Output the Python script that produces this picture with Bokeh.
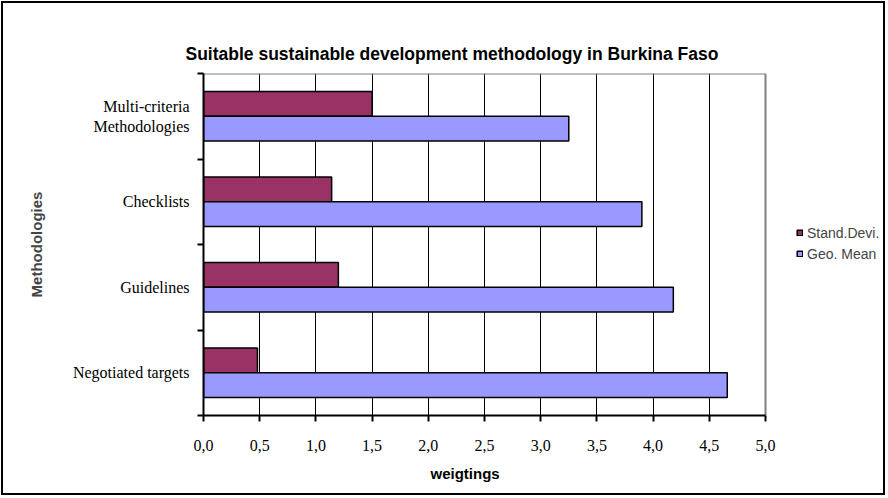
from bokeh.plotting import figure
from bokeh.models import (Range1d, FixedTicker, CustomJSTickFormatter, Legend, LegendItem,
                          ColumnDataSource, Title, LinearAxis)
from bokeh.embed import file_html
from bokeh.resources import INLINE

# ---- data ----
categories = ["Negotiated targets", "Guidelines", "Checklists", "Multi-criteria\nMethodologies"]
geo_mean = [4.66, 4.18, 3.90, 3.25]
stand_devi = [0.48, 1.20, 1.14, 1.50]
x_ticks = [0.0, 0.5, 1.0, 1.5, 2.0, 2.5, 3.0, 3.5, 4.0, 4.5, 5.0]
series_names = ["Stand.Devi.", "Geo. Mean"]
title_text = "Suitable sustainable development methodology in Burkina Faso"
x_title = "weigtings"
y_title = "Methodologies"

STAND_COLOR = "#993366"
GEO_COLOR = "#9999FF"
SANS = "Liberation Sans"
SERIF = "Liberation Serif"

n = len(categories)
x_max = x_ticks[-1]
centers = [i + 0.5 for i in range(n)]
bar_h = 0.29
off = 0.145

src = ColumnDataSource(dict(
    y_sd=[c + off for c in centers],
    y_gm=[c - off for c in centers],
    sd=stand_devi,
    gm=geo_mean,
))

# layout geometry (pixels, canvas is shifted 3px by a CSS margin)
W, H = 880, 490
F_LEFT, F_RIGHT_AXIS, F_TOP, F_BOTTOM = 200, 762, 70, 412
px_per_unit = (F_RIGHT_AXIS - F_LEFT) / x_max
x_end = (W - F_LEFT) / px_per_unit   # frame extends to the canvas edge (room for legend)

p = figure(width=W, height=H, output_backend="svg", toolbar_location=None,
           x_range=Range1d(0, x_end), y_range=Range1d(0, n),
           min_border_left=F_LEFT, min_border_right=0,
           min_border_top=F_TOP, min_border_bottom=H - F_BOTTOM)

p.background_fill_color = "white"
p.border_fill_color = "white"
p.outline_line_color = None

# main axes (captured before any extra axis is added)
xa = p.below[0]
ya = p.left[0]

# invisible spacer axis above the plot area (pushes the title up)
spacer = LinearAxis(ticker=FixedTicker(ticks=[], minor_ticks=[]), axis_line_color=None,
                    major_tick_line_color=None, minor_tick_line_color=None,
                    major_tick_out=20, major_tick_in=0, minor_tick_out=0, minor_tick_in=0,
                    major_label_standoff=0, major_label_text_font_size="0px")
p.add_layout(spacer, "above")

# title
p.title.text = title_text
p.title.align = "left"
p.title.offset = -18
p.title.standoff = 19
p.title.text_font = SANS
p.title.text_font_size = "17.5px"
p.title.text_font_style = "bold"
p.title.text_color = "black"

# plot-area border (top and right, gray)
p.segment(x0=[0, x_max], y0=[n, 0], x1=[x_max, x_max], y1=[n, n],
          line_color="#808080", line_width=2)

# grid
p.xgrid.grid_line_color = "black"
p.xgrid.grid_line_width = 1
p.xgrid.ticker = FixedTicker(ticks=x_ticks[1:-1])
p.ygrid.grid_line_color = None

# bars
r_sd = p.hbar(y="y_sd", right="sd", left=0, height=bar_h, source=src,
              fill_color=STAND_COLOR, line_color="black", line_width=1.5)
r_gm = p.hbar(y="y_gm", right="gm", left=0, height=bar_h, source=src,
              fill_color=GEO_COLOR, line_color="black", line_width=1.5)

# x axis
xa.bounds = (0, x_max)
xa.ticker = FixedTicker(ticks=x_ticks, minor_ticks=[])
xa.formatter = CustomJSTickFormatter(code="return tick.toFixed(1).replace('.', ',');")
xa.axis_line_color = "black"
xa.axis_line_width = 2
xa.major_tick_out = 6
xa.major_tick_in = 0
xa.major_tick_line_width = 2
xa.major_tick_line_color = "black"
xa.major_label_text_font = SERIF
xa.major_label_text_font_size = "16px"
xa.major_label_text_color = "black"
xa.major_label_standoff = 18

# x axis title (as a title below, so it can be placed like the reference)
xt = Title(text=x_title, align="left", offset=227, standoff=18, text_font=SANS,
           text_font_size="15px", text_font_style="bold", text_color="black")
p.add_layout(xt, "below")

# y axis
ya.ticker = FixedTicker(ticks=centers, minor_ticks=[float(i) for i in range(n + 1)])
ya.formatter = CustomJSTickFormatter(args=dict(names=categories),
                                     code="return names[Math.round(tick - 0.5)];")
ya.axis_line_color = "black"
ya.axis_line_width = 2
ya.major_tick_out = 0
ya.major_tick_in = 0
ya.minor_tick_out = 6
ya.minor_tick_in = 0
ya.minor_tick_line_width = 2
ya.minor_tick_line_color = "black"
ya.major_label_text_font = SERIF
ya.major_label_text_font_size = "16px"
ya.major_label_text_color = "black"
ya.major_label_standoff = 8
ya.axis_label = y_title
ya.axis_label_text_font = SANS
ya.axis_label_text_font_size = "15px"
ya.axis_label_text_font_style = "bold"
ya.axis_label_standoff = 25

# legend
legend = Legend(items=[LegendItem(label=series_names[0], renderers=[r_sd]),
                       LegendItem(label=series_names[1], renderers=[r_gm])],
                location=(593, 153), orientation="vertical")
legend.padding = 0
legend.margin = 0
legend.border_line_color = None
legend.background_fill_alpha = 0
legend.glyph_width = 7
legend.glyph_height = 7
legend.label_standoff = 4
legend.label_text_font = SANS
legend.label_text_font_size = "14px"
legend.label_height = 17
legend.spacing = 4
p.add_layout(legend, "center")

p.styles = {"outline": "2px solid black", "outline-offset": "0px",
            "margin": "3px 0px 0px 3px"}

open("out.html", "w").write(file_html(p, INLINE))
